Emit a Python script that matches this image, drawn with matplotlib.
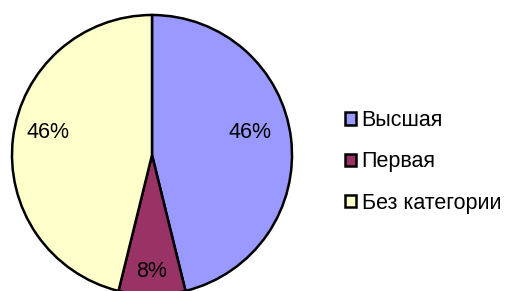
import matplotlib
matplotlib.use("Agg")
import matplotlib.pyplot as plt
from matplotlib.patches import Patch

plt.rcParams['font.family'] = ['Liberation Sans', 'DejaVu Sans']

categories = ["Высшая", "Первая", "Без категории"]
counts = [6, 1, 6]
colors = ["#9999FF", "#993366", "#FFFFCC"]

fig = plt.figure(figsize=(5.07, 2.91), dpi=100)
ax = fig.add_axes([12 / 507, -4 / 291, 280 / 507, 280 / 291])

wedges, texts, autotexts = ax.pie(
    counts, colors=colors, startangle=90, counterclock=False,
    autopct="%1.0f%%", pctdistance=0.72, radius=1,
    wedgeprops=dict(edgecolor="black", linewidth=1.8),
    textprops=dict(fontsize=15.5, color="black"),
)
autotexts[0].set_position((0.70, 0.16))
autotexts[2].set_position((-0.74, 0.16))
autotexts[1].set_position((0, -0.83))
ax.set_xlim(-1.0, 1.0)
ax.set_ylim(-1.0, 1.0)
ax.set_aspect("equal")
ax.axis("off")

handles = [Patch(facecolor=c, edgecolor="black", linewidth=1.8) for c in colors]
fig.legend(handles, categories, loc="center left",
           bbox_to_anchor=(326 / 507, (291 - 162) / 291),
           frameon=False, fontsize=15.5, handlelength=0.5, handleheight=0.5,
           handletextpad=0.25, labelspacing=0.95)

fig.savefig("out.png", dpi=100)
